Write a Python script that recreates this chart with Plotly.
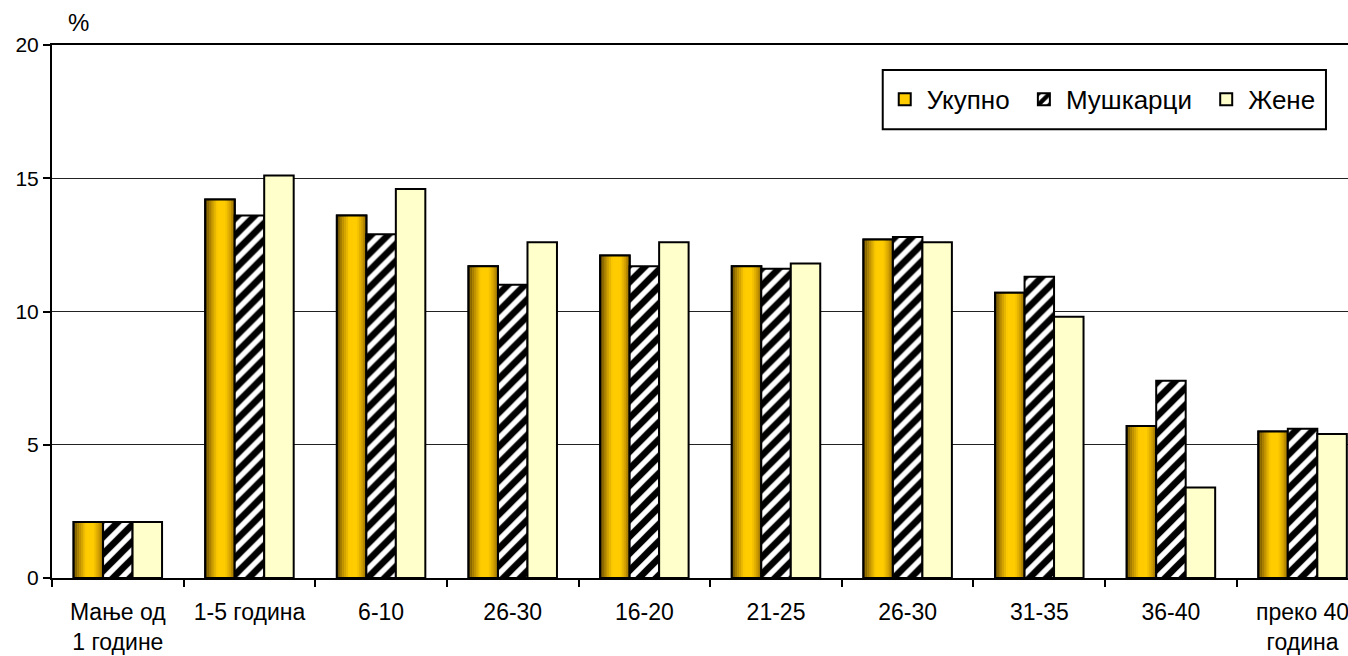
import plotly.graph_objects as go

categories = ["Мање од<br>1 године", "1-5 година", "6-10", "26-30", "16-20",
              "21-25", "26-30", "31-35", "36-40", "преко 40<br>година"]
series_names = ["Укупно", "Мушкарци", "Жене"]
ukupno = [2.1, 14.2, 13.6, 11.7, 12.1, 11.7, 12.7, 10.7, 5.7, 5.5]
muskarci = [2.1, 13.6, 12.9, 11.0, 11.7, 11.6, 12.8, 11.3, 7.4, 5.6]
zene = [2.1, 15.1, 14.6, 12.6, 12.6, 11.8, 12.6, 9.8, 3.4, 5.4]
y_ticks = [0, 5, 10, 15, 20]

x = list(range(len(categories)))
W = 0.224
offs = [-1.5 * W, -0.5 * W, 0.5 * W]
FONT = "Liberation Sans, Arial, sans-serif"
PAD = "\u00a0"  # small spacing after legend entries

# gradient stops for the "Укупно" bars (style only)
stops = [(0.0, (95, 70, 0)), (0.2, (185, 140, 0)), (0.42, (255, 204, 0)),
         (0.68, (255, 204, 0)), (0.88, (200, 150, 0)), (1.0, (120, 90, 0))]


def grad(t):
    for (t0, c0), (t1, c1) in zip(stops[:-1], stops[1:]):
        if t0 <= t <= t1:
            f = (t - t0) / (t1 - t0) if t1 > t0 else 0
            c = [round(a + (b - a) * f) for a, b in zip(c0, c1)]
            return "rgb(%d,%d,%d)" % tuple(c)
    return "rgb(%d,%d,%d)" % stops[-1][1]


fig = go.Figure()
fig.add_trace(go.Bar(x=x, y=ukupno, width=W, offset=offs[0], name=series_names[0] + PAD,
                     marker=dict(color="#FFCC00", line=dict(color="black", width=2))))
N = 16
sw = W / N
for i in range(N):
    fig.add_trace(go.Bar(x=x, y=ukupno, width=sw * 1.15, offset=offs[0] + i * sw,
                         marker=dict(color=grad((i + 0.5) / N), line=dict(width=0)),
                         showlegend=False, hoverinfo="skip"))
fig.add_trace(go.Bar(x=x, y=ukupno, width=W, offset=offs[0], showlegend=False,
                     marker=dict(color="rgba(0,0,0,0)", line=dict(color="black", width=2)),
                     hoverinfo="skip"))
fig.add_trace(go.Bar(x=x, y=muskarci, width=W, offset=offs[1], name=series_names[1] + PAD,
                     marker=dict(color="white",
                                 pattern=dict(shape="/", fgcolor="black", bgcolor="white",
                                              fgopacity=1, size=12, solidity=0.55),
                                 line=dict(color="black", width=2))))
fig.add_trace(go.Bar(x=x, y=zene, width=W, offset=offs[2], name=series_names[2],
                     marker=dict(color="#FFFFCC", line=dict(color="black", width=2))))

fig.update_layout(
    width=1348, height=656,
    barmode="overlay",
    plot_bgcolor="white", paper_bgcolor="white",
    margin=dict(l=52, r=0, t=45, b=78, autoexpand=False),
    font=dict(family=FONT, size=22, color="black"),
    showlegend=True,
    legend=dict(orientation="h", x=0.641, xanchor="left", y=0.898, yanchor="middle",
                bgcolor="rgba(0,0,0,0)", borderwidth=0, itemwidth=34,
                font=dict(family=FONT, size=26, color="black")),
    shapes=[dict(type="rect", xref="paper", yref="paper", x0=0.641, x1=0.983,
                 y0=0.842, y1=0.953, line=dict(color="black", width=2),
                 fillcolor="white", layer="above")],
    annotations=[dict(text="%", xref="paper", yref="paper", x=0.0208, y=1.043,
                      xanchor="center", yanchor="middle", showarrow=False,
                      font=dict(family=FONT, size=24, color="black"))],
)
fig.update_xaxes(range=[-0.5, 9.345], tickvals=x, ticktext=categories, ticks="",
                 showline=True, linecolor="black", linewidth=2, mirror=True,
                 showgrid=False, zeroline=False, ticklabelstandoff=12,
                 ticklabeloverflow="allow", automargin=False,
                 minor=dict(tickmode="array", tickvals=[i + 0.5 for i in range(-1, 9)],
                            ticks="outside", ticklen=7, tickwidth=2, tickcolor="black",
                            showgrid=False),
                 tickfont=dict(family=FONT, size=23, color="black"))
fig.update_yaxes(range=[0, 20], tickvals=y_ticks, showgrid=True, gridcolor="#222222",
                 gridwidth=1, showline=True, linecolor="black", linewidth=2,
                 ticks="outside", ticklen=7, tickwidth=2, tickcolor="black",
                 zeroline=False, automargin=False,
                 tickfont=dict(family=FONT, size=21, color="black"))

fig.write_html("out.html", config={"displayModeBar": False},
               post_script="document.body.style.margin='0px';document.body.style.padding='0px';")
